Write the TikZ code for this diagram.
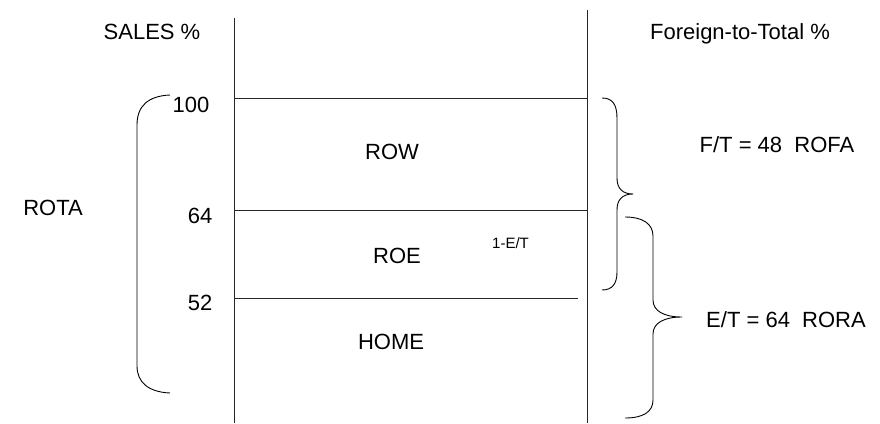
\documentclass[tikz,border=0pt]{standalone}
\usepackage{fontspec}
\setmainfont{Liberation Sans}
\begin{document}
\begin{tikzpicture}[x=1pt,y=-1pt,
  lbl/.style={font=\fontsize{22}{26}\selectfont, inner sep=0pt, anchor=base},
  small/.style={font=\fontsize{15}{18}\selectfont, inner sep=0pt, anchor=base west},
  ln/.style={line width=0.8pt, black!85},
  brace/.style={line width=0.9pt, black}]
\useasboundingbox (0,0) rectangle (880,423);
% axes
\coordinate (la) at (234,18);  \coordinate (lb) at (234,423);
\coordinate (ra) at (587,10);  \coordinate (rb) at (587,423);
\draw[ln] (la) -- (lb);
\draw[ln] (ra) -- (rb);
\coordinate (h1a) at (234,98);  \coordinate (h1b) at (587,98);
\coordinate (h2a) at (234,210); \coordinate (h2b) at (587,210);
\coordinate (h3a) at (234,298); \coordinate (h3b) at (578,298);
\draw[ln] (h1a) -- (h1b);
\draw[ln] (h2a) -- (h2b);
\draw[ln] (h3a) -- (h3b);
% texts
\node[lbl] (sales) at (152,39) {SALES \%};
\node[lbl] (ftt) at (740,39) {Foreign-to-Total \%};
\node[lbl] (rota) at (53,215) {ROTA};
\node[lbl] (n100) at (191,112) {100};
\node[lbl] (n64) at (200,223) {64};
\node[lbl] (n52) at (200,310) {52};
\node[lbl] (row) at (392,159) {ROW};
\node[lbl] (roe) at (397,263) {ROE};
\node[small] (et) at (492,248) {1-E/T};
\node[lbl] (home) at (391,349) {HOME};
\node[lbl] (rofa) at (777,152) {F/T = 48\ \ ROFA};
\node[lbl] (rora) at (786,327) {E/T = 64\ \ RORA};
% left brace
\draw[brace] (170,95) .. controls (148,96) and (137,106) .. (137,125)
  -- (137,366) .. controls (137,382) and (148,392) .. (170,393);
% top right brace
\draw[brace] (602,98) .. controls (612,98) and (617,104) .. (617,118)
  -- (617,178) .. controls (617,188) and (622,194) .. (633,194)
  .. controls (622,194) and (617,200) .. (617,210)
  -- (617,272) .. controls (617,284) and (612,290) .. (602,290);
% bottom right brace
\draw[brace] (625,217) .. controls (643,217) and (653,224) .. (653,236)
  -- (653,300) .. controls (653,311) and (664,317) .. (682,317)
  .. controls (664,317) and (653,323) .. (653,334)
  -- (653,400) .. controls (653,412) and (643,418) .. (625,418);
\end{tikzpicture}
\end{document}
